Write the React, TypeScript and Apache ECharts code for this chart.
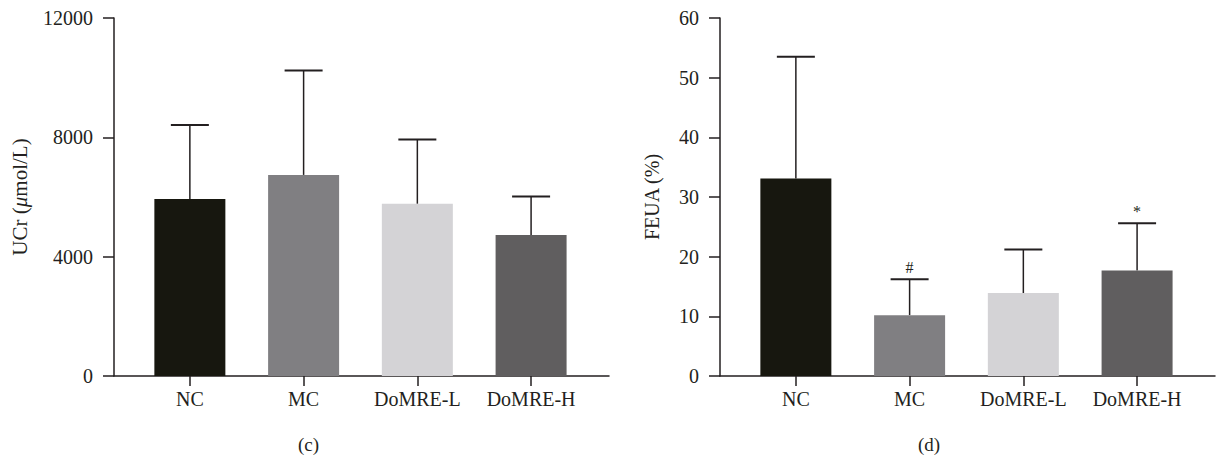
import React, { useEffect, useRef } from "react";
import * as echarts from "echarts";

// Groups on the x axis
const groups = ["NC", "MC", "DoMRE-L", "DoMRE-H"];
const barColors = ["#17170f", "#807f82", "#d4d3d6", "#605e5f"];

// Panel (c): urinary creatinine, mean and mean + SD
const ucrMean = [5930, 6740, 5770, 4730];
const ucrUpper = [8410, 10240, 7930, 6015];

// Panel (d): fractional excretion of uric acid, mean and mean + SD
const feuaMean = [33.1, 10.2, 13.9, 17.7];
const feuaUpper = [53.5, 16.2, 21.2, 25.6];
const feuaMarks = ["", "#", "", "*"];

const FONT = "'Liberation Serif', 'DejaVu Serif', serif";
const INK = "#231f20";
const X_MIN = -0.667;
const X_MAX = 3.685;
const LABEL_SIZE = 20;

function xAxis(gridIndex: number) {
  return {
    type: "value" as const,
    gridIndex,
    min: X_MIN,
    max: X_MAX,
    splitLine: { show: false },
    axisLine: { show: true, onZero: false, lineStyle: { color: INK, width: 1.5 } },
    axisTick: {
      show: true,
      length: 10,
      customValues: [0, 1, 2, 3],
      lineStyle: { color: INK, width: 1.5 },
    },
    axisLabel: {
      customValues: [0, 1, 2, 3],
      formatter: (v: number) => groups[Math.round(v)] ?? "",
      color: INK,
      fontFamily: FONT,
      fontSize: LABEL_SIZE,
      margin: 13,
    },
  };
}

function yAxis(
  gridIndex: number,
  max: number,
  interval: number,
  name: string,
  nameGap: number,
  nameSize: number
) {
  return {
    type: "value" as const,
    gridIndex,
    min: 0,
    max,
    interval,
    name,
    nameLocation: "middle" as const,
    nameGap,
    nameRotate: 90,
    nameTextStyle: {
      color: INK,
      fontFamily: FONT,
      fontSize: nameSize,
      rich: { i: { fontStyle: "italic", color: INK, fontFamily: FONT, fontSize: nameSize } },
    },
    splitLine: { show: false },
    axisLine: { show: true, onZero: false, lineStyle: { color: INK, width: 1.5 } },
    axisTick: { show: true, inside: false, length: 11, lineStyle: { color: INK, width: 1.5 } },
    axisLabel: {
      color: INK,
      fontFamily: FONT,
      fontSize: LABEL_SIZE,
      margin: 21,
      formatter: (v: number) => String(v),
    },
  };
}

function barSeries(idx: number, values: number[]) {
  return {
    type: "bar" as const,
    xAxisIndex: idx,
    yAxisIndex: idx,
    barWidth: 71,
    data: values.map((v, i) => ({ value: [i, v], itemStyle: { color: barColors[i] } })),
  };
}

function errorSeries(idx: number, mean: number[], upper: number[], marks: string[]) {
  return {
    type: "custom" as const,
    xAxisIndex: idx,
    yAxisIndex: idx,
    data: mean.map((m, i) => [i, m, upper[i], i]),
    renderItem: (params: any, api: any) => {
      const x = api.value(0);
      const lo = api.coord([x, api.value(1)]);
      const hi = api.coord([x, api.value(2)]);
      const mark = marks[api.value(3)] || "";
      const children: any[] = [
        {
          type: "line",
          shape: { x1: lo[0], y1: lo[1], x2: hi[0], y2: hi[1] },
          style: { stroke: INK, lineWidth: 1.5 },
        },
        {
          type: "line",
          shape: { x1: hi[0] - 19, y1: hi[1], x2: hi[0] + 19, y2: hi[1] },
          style: { stroke: INK, lineWidth: 2 },
        },
      ];
      if (mark) {
        children.push({
          type: "text",
          x: hi[0],
          y: hi[1] - 4,
          style: {
            text: mark,
            fill: INK,
            font: `16px ${FONT}`,
            align: "center",
            verticalAlign: "bottom",
          },
        });
      }
      return { type: "group", children };
    },
  };
}

export default function App() {
  const ref = useRef<HTMLDivElement>(null);

  useEffect(() => {
    if (!ref.current) return;
    const chart = echarts.init(ref.current, null, { renderer: "svg" });
    chart.setOption({
      animation: false,
      backgroundColor: "#ffffff",
      grid: [
        { left: 114, top: 18, width: 495, height: 358 },
        { left: 720, top: 18, width: 495, height: 358 },
      ],
      xAxis: [xAxis(0), xAxis(1)],
      yAxis: [
        yAxis(0, 12000, 4000, "UCr ({i|μ}mol/L)", 84, 21),
        yAxis(1, 60, 10, "FEUA (%)", 58, 20),
      ],
      series: [
        barSeries(0, ucrMean),
        errorSeries(0, ucrMean, ucrUpper, ["", "", "", ""]),
        barSeries(1, feuaMean),
        errorSeries(1, feuaMean, feuaUpper, feuaMarks),
      ],
      graphic: [
        {
          type: "text",
          left: 298,
          top: 435,
          style: { text: "(c)", fill: INK, font: `19px ${FONT}` },
        },
        {
          type: "text",
          left: 918,
          top: 435,
          style: { text: "(d)", fill: INK, font: `19px ${FONT}` },
        },
      ],
    });
    return () => chart.dispose();
  }, []);

  return (
    <div
      ref={ref}
      style={{ position: "absolute", left: 0, top: 0, width: 1218, height: 460, background: "#fff" }}
    />
  );
}
